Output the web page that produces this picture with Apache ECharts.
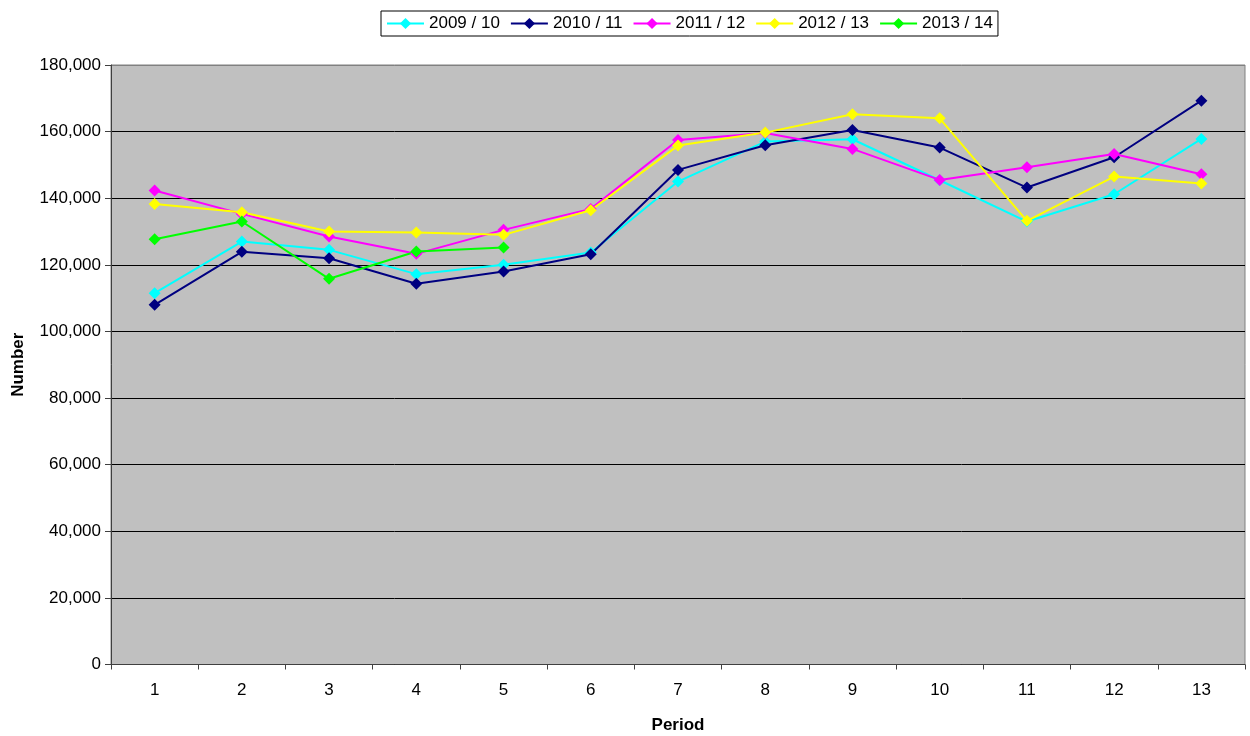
<!DOCTYPE html>
<html>
<head>
<meta charset="utf-8">
<title>Number by Period</title>
<script src="https://cdn.jsdelivr.net/npm/echarts@6/dist/echarts.min.js"></script>
<style>
  html, body { margin: 0; padding: 0; background: #ffffff; }
  #chart { width: 1250px; height: 736px; }
</style>
</head>
<body>
<div id="chart"></div>
<script>
// Periods along the x axis
const periods = ['1', '2', '3', '4', '5', '6', '7', '8', '9', '10', '11', '12', '13'];

// Series names (financial years)
const seriesNames = ['2009 / 10', '2010 / 11', '2011 / 12', '2012 / 13', '2013 / 14'];

// Values per period for each year
const y2009 = [111500, 127000, 124500, 117200, 120000, 123700, 145000, 157000, 157700, 145400, 133000, 141200, 157800];
const y2010 = [108000, 123900, 122000, 114300, 118000, 123200, 148500, 155900, 160500, 155200, 143200, 152300, 169300];
const y2011 = [142300, 135300, 128500, 123300, 130500, 136800, 157500, 159600, 154800, 145500, 149300, 153300, 147200];
const y2012 = [138300, 135800, 130000, 129700, 129000, 136400, 155800, 159700, 165200, 164000, 133200, 146500, 144400];
const y2013 = [127700, 133000, 115800, 124000, 125200];

// Y axis scale
const yMin = 0;
const yMax = 180000;
const yStep = 20000;

const lineColors = ['#00FFFF', '#000080', '#FF00FF', '#FFFF00', '#00FF00'];
const allValues = [y2009, y2010, y2011, y2012, y2013];

const FONT = '"Liberation Sans", Arial, sans-serif';

function fmtThousands(v) {
  return String(v).replace(/\B(?=(\d{3})+(?!\d))/g, ',');
}

// gridlines: black, with the top one matching the grey plot border
const splitColors = [];
for (let v = yMin; v <= yMax; v += yStep) {
  splitColors.push(v === yMax ? '#808080' : '#000000');
}

const chart = echarts.init(document.getElementById('chart'), null, { renderer: 'canvas' });

chart.setOption({
  animation: false,
  backgroundColor: '#ffffff',
  textStyle: { fontFamily: FONT },
  legend: {
    data: seriesNames,
    top: 11,
    left: 381,
    orient: 'horizontal',
    padding: [4, 5, 4, 5],
    itemGap: 10,
    itemWidth: 37,
    itemHeight: 14,
    borderColor: '#000000',
    borderWidth: 1,
    backgroundColor: '#ffffff',
    textStyle: { fontFamily: FONT, fontSize: 17, color: '#000000' }
  },
  grid: {
    left: 111,
    right: 5,
    top: 65,
    bottom: 71.5,
    outerBoundsMode: 'none',
    containLabel: false,
    show: true,
    backgroundColor: '#C0C0C0',
    borderColor: '#808080',
    borderWidth: 1
  },
  xAxis: {
    type: 'category',
    data: periods,
    boundaryGap: true,
    name: 'Period',
    nameLocation: 'middle',
    nameGap: 52,
    nameTextStyle: { fontFamily: FONT, fontSize: 17, fontWeight: 'bold', color: '#000000' },
    axisLine: { show: true, lineStyle: { color: '#404040', width: 1 } },
    axisTick: { show: true, alignWithLabel: false, length: 5, lineStyle: { color: '#404040' } },
    axisLabel: { fontFamily: FONT, fontSize: 17, color: '#000000', margin: 17 },
    splitLine: { show: false }
  },
  yAxis: {
    type: 'value',
    min: yMin,
    max: yMax,
    interval: yStep,
    name: 'Number',
    nameLocation: 'middle',
    nameGap: 84,
    nameRotate: 90,
    nameTextStyle: { fontFamily: FONT, fontSize: 17, fontWeight: 'bold', color: '#000000' },
    axisLine: { show: true, lineStyle: { color: '#404040', width: 1 } },
    axisTick: { show: true, length: 6, lineStyle: { color: '#404040' } },
    axisLabel: {
      fontFamily: FONT, fontSize: 17, color: '#000000', margin: 10,
      formatter: fmtThousands
    },
    splitLine: { show: true, lineStyle: { color: splitColors, width: 1 } }
  },
  series: seriesNames.map((name, i) => ({
    name: name,
    type: 'line',
    data: allValues[i],
    symbol: 'diamond',
    symbolSize: 12,
    showAllSymbol: true,
    lineStyle: { color: lineColors[i], width: 2 },
    itemStyle: { color: lineColors[i] },
    emphasis: { disabled: true }
  }))
});
</script>
</body>
</html>
